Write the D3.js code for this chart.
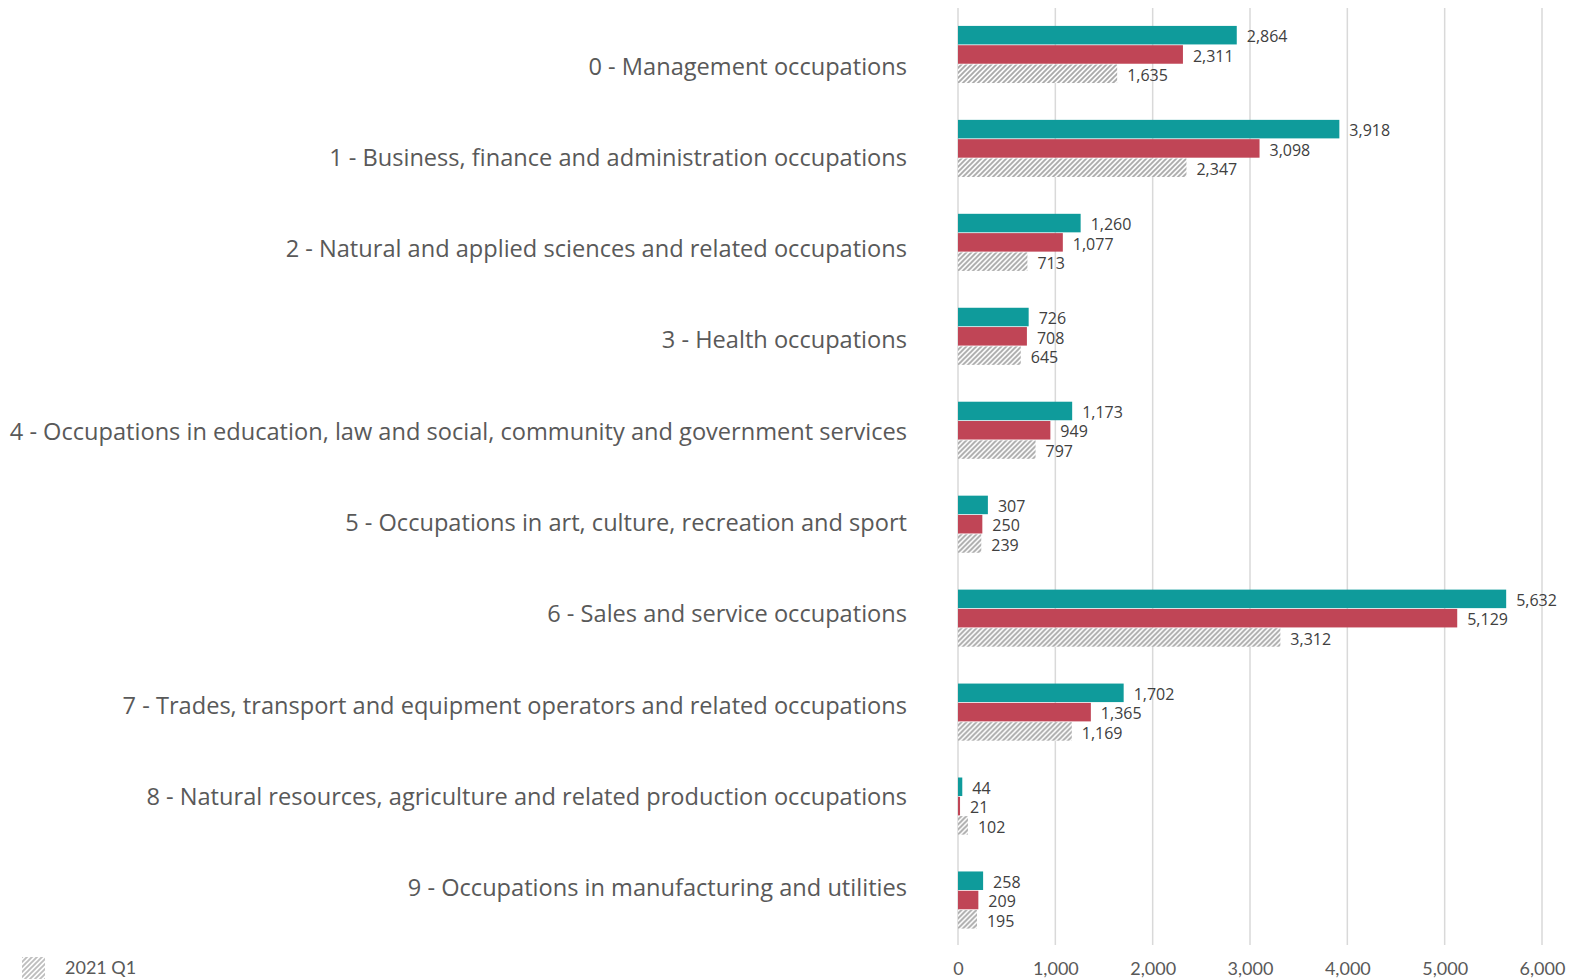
<!DOCTYPE html>
<html>
<head>
<meta charset="utf-8">
<script src="https://cdn.jsdelivr.net/npm/d3@7"></script>
<style>
  html, body { margin: 0; padding: 0; background: #fff; }
  svg { display: block; }
</style>
</head>
<body>
<svg id="chart" width="1581" height="980"></svg>
<script>
const categories = [
  "0 - Management occupations",
  "1 - Business, finance and administration occupations",
  "2 - Natural and applied sciences and related occupations",
  "3 - Health occupations",
  "4 - Occupations in education, law and social, community and government services",
  "5 - Occupations in art, culture, recreation and sport",
  "6 - Sales and service occupations",
  "7 - Trades, transport and equipment operators and related occupations",
  "8 - Natural resources, agriculture and related production occupations",
  "9 - Occupations in manufacturing and utilities"
];
const seriesNames = ["Series A", "Series B", "2021 Q1"];
const seriesTeal = [2864, 3918, 1260, 726, 1173, 307, 5632, 1702, 44, 258];
const seriesRed = [2311, 3098, 1077, 708, 949, 250, 5129, 1365, 21, 209];
const series2021Q1 = [1635, 2347, 713, 645, 797, 239, 3312, 1169, 102, 195];
const xTicks = [0, 1000, 2000, 3000, 4000, 5000, 6000];
const legendItems = ["2021 Q1"];

const svg = d3.select("#chart");
const fmt = d3.format(",");
const textColor = "#595959";

// hatch pattern
const defs = svg.append("defs");
const pat = defs.append("pattern")
  .attr("id", "hatch")
  .attr("patternUnits", "userSpaceOnUse")
  .attr("width", 5).attr("height", 5);
pat.append("rect").attr("width", 5).attr("height", 5).attr("fill", "#fff");
pat.append("path")
  .attr("d", "M-1,1 l2,-2 M0,5 l5,-5 M4,6 l2,-2")
  .attr("stroke", "#a8a8a8").attr("stroke-width", 1.9);

const x = d3.scaleLinear().domain([0, 6000]).range([958, 1542]);
const y = d3.scaleBand().domain(categories).range([7.5, 947]).paddingInner(0.392).paddingOuter(0.196);
const ySub = d3.scaleBand().domain(seriesNames).range([0, y.bandwidth()]).paddingInner(0.04);
const yLabel = d3.scalePoint().domain(categories).range([66.5, 888]);

// gridlines
svg.append("g").selectAll("line").data(xTicks).join("line")
  .attr("x1", d => x(d)).attr("x2", d => x(d))
  .attr("y1", 8).attr("y2", 945)
  .attr("stroke", "#d9d9d9").attr("stroke-width", 1.5);

// x axis labels
const xAxis = d3.axisBottom(x).tickValues(xTicks).tickFormat(fmt).tickSize(0).tickPadding(0);
const gx = svg.append("g").attr("transform", "translate(0,962)").call(xAxis);
gx.select(".domain").remove();
gx.selectAll("text")
  .attr("font-family", "Lato, 'Open Sans', sans-serif")
  .attr("font-size", 18).attr("fill", textColor);

// category labels
const yAxis = d3.axisLeft(yLabel).tickSize(0).tickPadding(0);
const gy = svg.append("g").attr("transform", "translate(907,0)").call(yAxis);
gy.select(".domain").remove();
gy.selectAll("text")
  .attr("font-family", "'Open Sans', sans-serif")
  .attr("font-size", 23.6).attr("fill", textColor);

// bars
const seriesData = [
  { name: seriesNames[0], values: seriesTeal, fill: "#0f9b9b" },
  { name: seriesNames[1], values: seriesRed, fill: "#c04556" },
  { name: seriesNames[2], values: series2021Q1, fill: "url(#hatch)" }
];

const groups = svg.append("g").selectAll("g").data(categories).join("g")
  .attr("transform", c => `translate(0,${y(c)})`);

seriesData.forEach(s => {
  groups.append("rect")
    .attr("x", x(0))
    .attr("y", ySub(s.name))
    .attr("height", ySub.bandwidth())
    .attr("width", (c, i) => x(s.values[i]) - x(0))
    .attr("fill", s.fill);
  groups.append("text")
    .attr("x", (c, i) => x(s.values[i]) + 10)
    .attr("y", ySub(s.name) + ySub.bandwidth() / 2)
    .attr("dy", "0.45em")
    .attr("font-family", "'Open Sans', sans-serif")
    .attr("font-size", 16)
    .attr("fill", "#404040")
    .text((c, i) => fmt(s.values[i]));
});

// legend
const leg = svg.append("g").attr("transform", "translate(22,957)");
leg.selectAll("rect").data(legendItems).join("rect")
  .attr("x", 0).attr("y", 0).attr("width", 23).attr("height", 22)
  .attr("fill", "url(#hatch)").attr("opacity", 0.75);
leg.selectAll("text").data(legendItems).join("text")
  .attr("x", 43).attr("y", 11).attr("dy", "0.35em")
  .attr("font-family", "Lato, 'Open Sans', sans-serif")
  .attr("font-size", 18).attr("fill", textColor)
  .text(d => d);
</script>
</body>
</html>
